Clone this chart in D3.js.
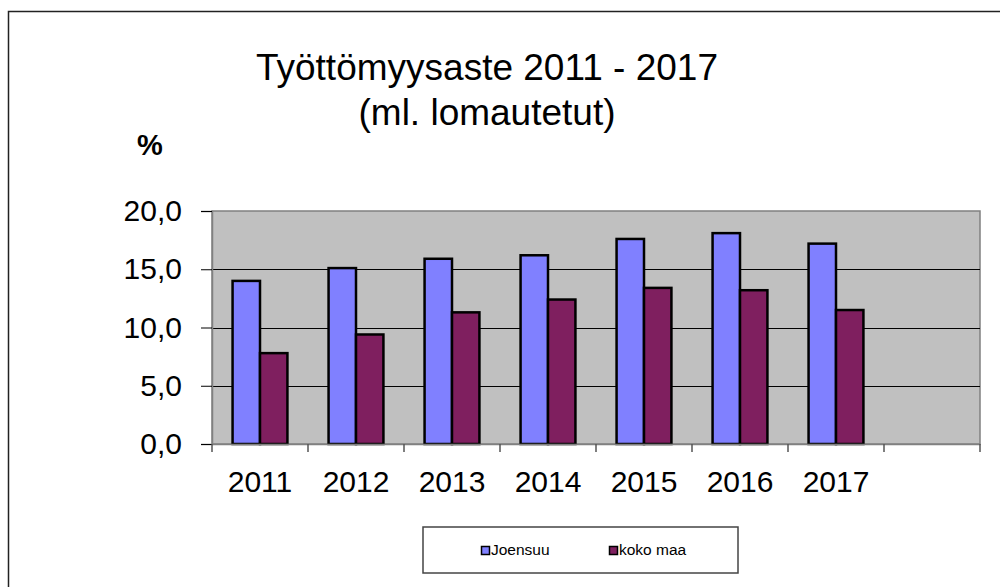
<!DOCTYPE html>
<html>
<head>
<meta charset="utf-8">
<script src="https://cdn.jsdelivr.net/npm/d3@7"></script>
<style>
  body { margin: 0; background: #fff; }
  svg { display: block; font-family: Arial, "Liberation Sans", sans-serif; }
</style>
</head>
<body>
<svg id="chart" width="1000" height="587"></svg>
<script>
// chart data
var years = ['2011', '2012', '2013', '2014', '2015', '2016', '2017'];
var seriesNames = ['Joensuu', 'koko maa'];
var joensuu = [14.0, 15.1, 15.9, 16.2, 17.6, 18.1, 17.2];
var kokoMaa = [7.8, 9.4, 11.3, 12.4, 13.4, 13.2, 11.5];
var yTicks = [0, 5, 10, 15, 20];
var colors = ['#8080FF', '#7F1F5F'];

var svg = d3.select('#chart');

// outer frame
svg.append('rect')
  .attr('x', 8.5).attr('y', 11.5)
  .attr('width', 1000).attr('height', 600)
  .style('fill', 'none').style('stroke', '#222').style('stroke-width', 1.5);

var plotLeft = 212, plotRight = 980, plotTop = 211, plotBottom = 444;

// one empty slot after 2017, like the original
var xDomain = years.concat(['']);
var x = d3.scaleBand().domain(xDomain).range([plotLeft, plotRight]).padding(0);
var xSeries = d3.scaleBand().domain(seriesNames).range([0, x.bandwidth()])
  .paddingInner(0).paddingOuter(0.75);
var y = d3.scaleLinear().domain([0, 20]).range([plotBottom, plotTop]);

// plot area
svg.append('rect')
  .attr('x', plotLeft).attr('y', plotTop)
  .attr('width', plotRight - plotLeft).attr('height', plotBottom - plotTop)
  .style('fill', '#C0C0C0').style('stroke', '#808080').style('stroke-width', 1.5);

// gridlines
svg.selectAll('.grid').data(yTicks.filter(function(d){ return d > 0 && d < 20; }))
  .enter().append('line')
  .attr('class', 'grid')
  .attr('x1', plotLeft).attr('x2', plotRight)
  .attr('y1', function(d){ return Math.round(y(d)) + 0.5; })
  .attr('y2', function(d){ return Math.round(y(d)) + 0.5; })
  .style('stroke', '#000').style('stroke-width', 1);

// bars
var rows = years.map(function(yr, i){
  return {year: yr, values: [joensuu[i], kokoMaa[i]]};
});
var groups = svg.selectAll('.yr').data(rows).enter().append('g')
  .attr('class', 'yr')
  .attr('transform', function(d){ return 'translate(' + x(d.year) + ',0)'; });
groups.selectAll('rect').data(function(d){
    return d.values.map(function(v, j){ return {name: seriesNames[j], value: v, idx: j}; });
  })
  .enter().append('rect')
  .attr('x', function(d){ return xSeries(d.name); })
  .attr('y', function(d){ return y(d.value); })
  .attr('width', xSeries.bandwidth())
  .attr('height', function(d){ return y(0) - y(d.value); })
  .style('fill', function(d){ return colors[d.idx]; })
  .style('stroke', '#000').style('stroke-width', 2.5);

// y axis
var yAxis = d3.axisLeft(y).tickValues(yTicks).tickSize(11).tickPadding(19)
  .tickFormat(function(d){ return d3.format('.1f')(d).replace('.', ','); });
var gy = svg.append('g').attr('transform', 'translate(' + plotLeft + ',0)').call(yAxis);
gy.select('.domain').style('stroke', '#808080').style('stroke-width', 1.5);
gy.selectAll('.tick line').style('stroke', '#000').style('stroke-width', 1);
gy.selectAll('text').style('font-size', '30px').style('fill', '#000')
  .attr('font-family', 'Arial, "Liberation Sans", sans-serif');

// x axis, ticks on category boundaries
var xAxis = d3.axisBottom(x).tickSize(0).tickPadding(27);
var gx = svg.append('g').attr('transform', 'translate(0,' + plotBottom + ')').call(xAxis);
gx.select('.domain').style('stroke', '#808080').style('stroke-width', 1.5);
gx.selectAll('text').style('font-size', '30px').style('fill', '#000')
  .attr('font-family', 'Arial, "Liberation Sans", sans-serif');
var boundaries = xDomain.map(function(d){ return x(d); }).concat([plotRight]);
gx.selectAll('.bnd').data(boundaries).enter().append('line')
  .attr('class', 'bnd')
  .attr('x1', function(d){ return d; }).attr('x2', function(d){ return d; })
  .attr('y1', 0).attr('y2', 8)
  .style('stroke', '#555').style('stroke-width', 1.5);

// titles
var title = svg.append('text')
  .attr('x', 487).attr('y', 80)
  .attr('text-anchor', 'middle')
  .style('font-size', '37px');
title.append('tspan').attr('x', 487).attr('y', 80).text('Työttömyysaste 2011 - 2017');
title.append('tspan').attr('x', 487).attr('y', 125).text('(ml. lomautetut)');

svg.append('text')
  .attr('x', 150).attr('y', 155)
  .attr('text-anchor', 'middle')
  .style('font-size', '29px').style('font-weight', 'bold')
  .text('%');

// legend
svg.append('rect')
  .attr('x', 423).attr('y', 527)
  .attr('width', 315).attr('height', 46)
  .style('fill', '#fff').style('stroke', '#444').style('stroke-width', 1.5);
var legendX = [481, 609];
var leg = svg.selectAll('.leg').data(seriesNames).enter().append('g')
  .attr('class', 'leg')
  .attr('transform', function(d, i){ return 'translate(' + legendX[i] + ',546)'; });
leg.append('rect')
  .attr('x', 0.5).attr('y', 0.5).attr('width', 8).attr('height', 8)
  .style('fill', function(d, i){ return colors[i]; })
  .style('stroke', '#000').style('stroke-width', 1.5);
leg.append('text')
  .attr('x', 10).attr('y', 9)
  .style('font-size', '15.5px')
  .text(function(d){ return d; });
</script>
</body>
</html>
